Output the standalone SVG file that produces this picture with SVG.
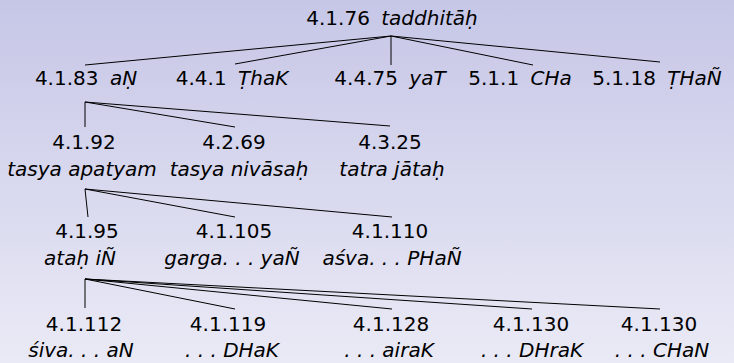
<svg xmlns="http://www.w3.org/2000/svg" width="734" height="363" viewBox="0 0 734 363">
<defs>
<linearGradient id="bg" x1="0" y1="0" x2="0" y2="1">
<stop offset="0" stop-color="#c6c6e7"/>
<stop offset="1" stop-color="#eaeaf6"/>
</linearGradient>
</defs>
<style>
text{font-family:"DejaVu Sans","Liberation Sans",sans-serif;font-size:20px;fill:#000;text-anchor:middle}
.i{font-style:italic}
.edges line{stroke:#000;stroke-width:1}
</style>
<rect x="0" y="0" width="734" height="363" fill="url(#bg)"/>
<g class="edges" id="connectors">
<line x1="391" y1="36" x2="85" y2="65"/>
<line x1="391" y1="36" x2="235" y2="64"/>
<line x1="391" y1="36" x2="391" y2="65"/>
<line x1="391" y1="36" x2="533" y2="65"/>
<line x1="391" y1="36" x2="660" y2="62"/>
<line x1="85" y1="102" x2="85" y2="127"/>
<line x1="85" y1="102" x2="235" y2="127"/>
<line x1="85" y1="102" x2="390" y2="126"/>
<line x1="85" y1="189" x2="88" y2="217"/>
<line x1="85" y1="189" x2="235" y2="217"/>
<line x1="85" y1="189" x2="392" y2="217"/>
<line x1="85" y1="279" x2="85" y2="308"/>
<line x1="85" y1="279" x2="235" y2="309"/>
<line x1="85" y1="279" x2="392" y2="309"/>
<line x1="85" y1="279" x2="532" y2="309"/>
<line x1="85" y1="279" x2="660" y2="309"/>
</g>
<g id="n-root"><text x="392" y="25">4.1.76 <tspan class="i" dx="5">taddhitāḥ</tspan></text></g>
<g id="n-4-1-83"><text x="86" y="85">4.1.83 <tspan class="i" dx="5">aṆ</tspan></text></g>
<g id="n-4-4-1"><text x="232" y="85">4.4.1 <tspan class="i" dx="5">ṬhaK</tspan></text></g>
<g id="n-4-4-75"><text x="390" y="85">4.4.75 <tspan class="i" dx="5">yaT</tspan></text></g>
<g id="n-5-1-1"><text x="520" y="85">5.1.1 <tspan class="i" dx="5">CHa</tspan></text></g>
<g id="n-5-1-18"><text x="657" y="85">5.1.18 <tspan class="i" dx="5">ṬHaÑ</tspan></text></g>
<g id="n-4-1-92"><text x="84" y="149">4.1.92</text><text class="i" x="82" y="176">tasya apatyam</text></g>
<g id="n-4-2-69"><text x="234" y="149">4.2.69</text><text class="i" x="239" y="176">tasya nivāsaḥ</text></g>
<g id="n-4-3-25"><text x="390" y="149">4.3.25</text><text class="i" x="392" y="176">tatra jātaḥ</text></g>
<g id="n-4-1-95"><text x="87" y="238">4.1.95</text><text class="i" x="80" y="265">ataḥ iÑ</text></g>
<g id="n-4-1-105"><text x="234" y="238">4.1.105</text><text class="i" x="232" y="265">garga. . . yaÑ</text></g>
<g id="n-4-1-110"><text x="390" y="238">4.1.110</text><text class="i" x="392" y="265">aśva. . . PHaÑ</text></g>
<g id="n-4-1-112"><text x="84" y="331">4.1.112</text><text class="i" x="81" y="357">śiva. . . aN</text></g>
<g id="n-4-1-119"><text x="228" y="331">4.1.119</text><text class="i" x="232" y="357">. . . DHaK</text></g>
<g id="n-4-1-128"><text x="391" y="331">4.1.128</text><text class="i" x="389" y="357">. . . airaK</text></g>
<g id="n-4-1-130a"><text x="531" y="331">4.1.130</text><text class="i" x="532" y="357">. . . DHraK</text></g>
<g id="n-4-1-130b"><text x="659" y="331">4.1.130</text><text class="i" x="662" y="357">. . . CHaN</text></g>
</svg>
